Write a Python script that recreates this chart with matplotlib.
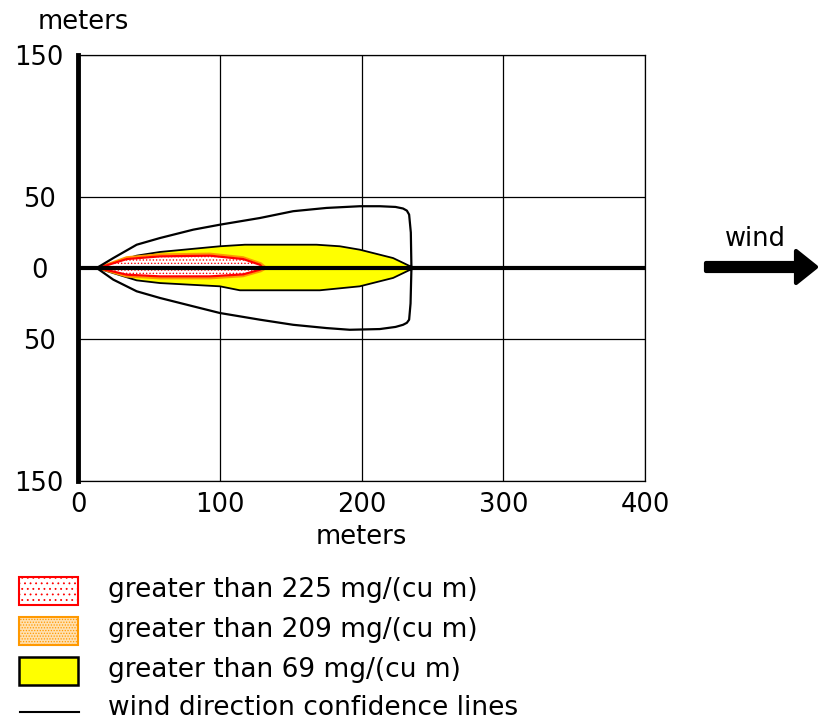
import matplotlib
matplotlib.use("Agg")
import matplotlib.pyplot as plt
from matplotlib.patches import Rectangle, FancyArrow

plt.rcParams['font.family'] = ['DejaVu Sans']
plt.rcParams['hatch.linewidth'] = 0.6
FS = 18.5

# threat zone outlines, downwind distance (m) vs crosswind distance (m)
conf_up_x = [13.2, 24.9, 41.4, 57.8, 81.3, 100.1, 128.3, 151.8, 175.3, 198.8, 212.9, 224.0, 229.3, 232.0, 233.6, 234.8, 235.2]
conf_up_y = [0.0, 7.0, 16.4, 21.1, 27.0, 30.5, 35.2, 40.0, 42.3, 43.5, 43.5, 43.0, 41.9, 40.4, 37.6, 25.0, 1.2]
conf_lo_x = [13.2, 24.9, 41.4, 57.8, 81.3, 100.1, 128.3, 151.8, 175.3, 191.7, 212.9, 224.0, 229.3, 232.0, 233.6, 234.6, 235.2]
conf_lo_y = [0.0, -8.2, -16.4, -21.1, -27.0, -31.7, -36.4, -40.0, -42.3, -43.5, -43.0, -41.5, -40.0, -38.6, -36.4, -25.0, -1.2]

yel_up_x = [13.2, 41.4, 57.8, 100.1, 117.7, 168.3, 184.7, 198.8, 222.3, 236.9]
yel_up_y = [0.0, 8.7, 11.3, 15.3, 16.4, 16.4, 15.3, 12.9, 7.0, 0.0]
yel_lo_x = [13.2, 41.4, 57.8, 100.1, 114.2, 170.6, 198.8, 222.3, 236.9]
yel_lo_y = [0.0, -8.7, -10.6, -12.9, -15.7, -15.7, -12.9, -7.0, 0.0]

org_up_x = [13.5, 34.3, 57.8, 93.0, 116.5, 129.0, 133.0]
org_up_y = [0.0, 7.6, 9.6, 10.1, 7.6, 3.3, 0.0]
org_lo_x = [13.5, 34.3, 57.8, 93.0, 116.5, 129.0, 133.0]
org_lo_y = [0.0, -6.0, -7.3, -7.3, -5.8, -2.3, 0.0]

red_up_x = [14.3, 34.3, 57.8, 93.0, 116.5, 128.3, 130.6]
red_up_y = [0.0, 6.3, 8.2, 8.7, 6.3, 2.3, 0.0]
red_lo_x = [14.3, 34.3, 57.8, 93.0, 116.5, 128.3, 130.6]
red_lo_y = [0.0, -4.7, -5.9, -5.9, -4.5, -1.2, 0.0]

x_ticks = [0, 100, 200, 300, 400]
y_ticks = [-150, -50, 0, 50, 150]
y_labels = ['150', '50', '0', '50', '150']
legend_labels = ['greater than 225 mg/(cu m)', 'greater than 209 mg/(cu m)',
                 'greater than 69 mg/(cu m)', 'wind direction confidence lines']


def outline(ux, uy, lx, ly):
    xs = list(ux) + list(lx[::-1])
    ys = list(uy) + list(ly[::-1])
    return xs, ys


W, H = 821, 722
fig = plt.figure(figsize=(W / 100, H / 100), dpi=100)
ax = fig.add_axes([78 / W, 1 - 481 / H, (645 - 78) / W, (481 - 55) / H])
ax.set_xlim(0, 400)
ax.set_ylim(-150, 150)

# zones
xs, ys = outline(yel_up_x, yel_up_y, yel_lo_x, yel_lo_y)
ax.fill(xs, ys, facecolor='#ffff00', edgecolor='black', lw=1.3, zorder=3)
xs, ys = outline(org_up_x, org_up_y, org_lo_x, org_lo_y)
ax.fill(xs, ys, facecolor='#ffd27a', edgecolor='#ff9900', lw=1.5, zorder=4)
xs, ys = outline(red_up_x, red_up_y, red_lo_x, red_lo_y)
ax.fill(xs, ys, facecolor='white', edgecolor='red', hatch='.....', lw=1.6, zorder=5)

# confidence lines
ax.plot(conf_up_x, conf_up_y, color='black', lw=1.6, zorder=6)
ax.plot(conf_lo_x, conf_lo_y, color='black', lw=1.6, zorder=6)
ax.plot([conf_up_x[-1], conf_lo_x[-1]], [conf_up_y[-1], conf_lo_y[-1]], color='black', lw=1.6, zorder=6)

# centerline
ax.axhline(0, color='black', lw=3, zorder=7)

ax.set_xticks(x_ticks)
ax.set_yticks(y_ticks)
ax.set_yticklabels(y_labels, ha='center')
ax.tick_params(length=0, labelsize=FS)
ax.tick_params(axis='y', pad=28)
ax.tick_params(axis='x', pad=8)
ax.grid(True, color='black', lw=0.9, zorder=1)
ax.set_axisbelow(True)
for s in ['top', 'right', 'bottom']:
    ax.spines[s].set_linewidth(0.9)
ax.spines['left'].set_linewidth(3.5)
ax.set_xlabel('meters', fontsize=FS, labelpad=4)
fig.text(83 / W, 1 - 22 / H, 'meters', fontsize=FS, ha='center', va='center')

# overlay for legend and wind arrow, in pixel units
ov = fig.add_axes([0, 0, 1, 1])
ov.set_xlim(0, W)
ov.set_ylim(H, 0)
ov.axis('off')

ov.add_patch(Rectangle((19, 577), 59, 28, facecolor='white', edgecolor='red', hatch='...', lw=1.5))
ov.add_patch(Rectangle((19, 617), 59, 28, facecolor='#ffe0b0', edgecolor='#ff9900', hatch='......', lw=1.5))
ov.add_patch(Rectangle((19, 657), 59, 28, facecolor='#ffff00', edgecolor='black', lw=1.8))
ov.plot([20, 79], [712, 712], color='black', lw=1.5)
for yy, lab in zip([590, 630, 670, 708], legend_labels):
    ov.text(108, yy, lab, fontsize=FS + 0.5, ha='left', va='center')

ov.add_patch(FancyArrow(706, 267, 110, 0, width=8, head_width=32, head_length=20,
                        length_includes_head=True, facecolor='black', edgecolor='black',
                        lw=3, joinstyle='round', capstyle='round'))
ov.text(755, 239, 'wind', fontsize=FS, ha='center', va='center')

fig.savefig('out.png', dpi=100)
